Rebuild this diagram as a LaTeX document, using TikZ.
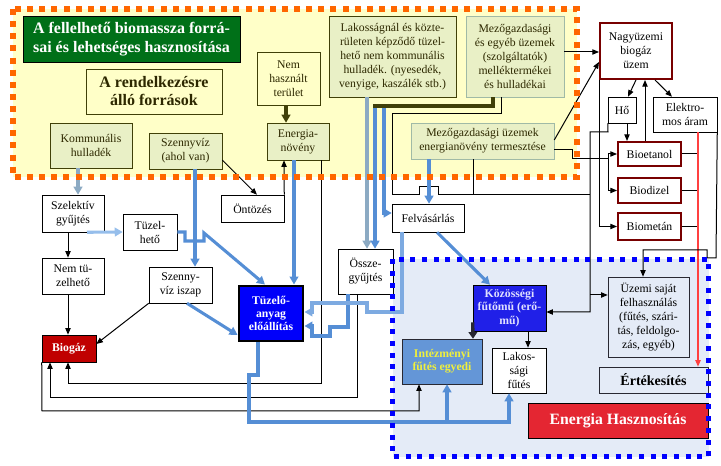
\documentclass[tikz,border=0pt]{standalone}
\usepackage{fontspec}
\setmainfont{Liberation Serif}
\usetikzlibrary{arrows.meta}
\definecolor{regionyellow}{RGB}{255,255,200}
\definecolor{regionblue}{RGB}{228,235,247}
\definecolor{orangeedge}{RGB}{255,102,0}
\definecolor{blueedge}{RGB}{0,0,255}
\definecolor{srcgreen}{RGB}{233,240,198}
\definecolor{olivedark}{RGB}{64,64,8}
\definecolor{inkolive}{RGB}{45,40,0}
\definecolor{lightborder}{RGB}{160,186,166}
\definecolor{titlegreen}{RGB}{0,112,24}
\definecolor{biored}{RGB}{120,0,0}
\definecolor{biogazred}{RGB}{192,0,0}
\definecolor{pureblue}{RGB}{0,0,250}
\definecolor{kozosblue}{RGB}{32,32,232}
\definecolor{kozostext}{RGB}{224,224,255}
\definecolor{intezblue}{RGB}{100,150,215}
\definecolor{inteztext}{RGB}{240,240,60}
\definecolor{energiared}{RGB}{228,38,50}
\definecolor{feedblue}{RGB}{85,142,213}
\definecolor{grayblue}{RGB}{140,170,195}
\definecolor{lightfeed}{RGB}{150,190,235}
\definecolor{palefeed}{RGB}{125,170,225}
\definecolor{redline}{RGB}{255,64,64}
\definecolor{darkarrow}{RGB}{40,40,50}
\tikzset{
    box/.style={draw=black, rectangle, align=center, inner sep=0pt, fill=white, text=black, font=\fontsize{8.8}{10.5}\selectfont},
    srcbox/.style={box, draw=olivedark, fill=srcgreen, text=inkolive},
    biobox/.style={box, draw=biored, line width=1.5pt},
    wh/.style 2 args={minimum width=#1*0.75pt, minimum height=#2*0.75pt},
    link/.style={draw=black, line width=0.75pt},
    linkarr/.style={link, -{Triangle[length=5pt,width=4pt]}},
    feed/.style={draw=feedblue, line width=2.3pt},
    feedarr/.style={feed, -{Triangle[length=6pt,width=6.5pt]}},
    bold/.style={font=\fontsize{8.8}{10}\selectfont\bfseries}
}
\begin{document}
\begin{tikzpicture}[x=0.75pt, y=-0.75pt]
                \useasboundingbox (0,0) rectangle (721,466);
                \fill [regionyellow] (13,9) rectangle (577,177);
                \fill [regionblue] (392.5,259.5) rectangle (708.5,456.5);

                \node [box, fill=titlegreen, text=white, wh={217}{46}, font=\fontsize{12}{14}\selectfont\bfseries] (title) at (131.5,39) {A fellelhető biomassza forrá-\\sai és lehetséges hasznosítása};
                \node [box, fill=regionyellow, draw=olivedark, text=inkolive, wh={136}{45}, font=\fontsize{12}{13.5}\selectfont\bfseries] (avail) at (154,91.5) {A rendelkezésre\\álló források};
                \node [srcbox, wh={82}{45}] (komm) at (91,145.5) {Kommunális\\hulladék};
                \node [srcbox, wh={73}{36}] (szennyviz) at (185.5,151) {Szennyvíz\\(ahol van)};
                \node [srcbox, fill=regionyellow, wh={63}{53}] (nemhasz) at (288.5,78.5) {Nem\\használt\\terület};
                \node [srcbox, wh={62}{37}] (enov) at (298,141.5) {Energia-\\növény};
                \node [srcbox, wh={127}{81}] (lakos) at (392.5,56.5) {Lakosságnál és közte-\\rületen képződő tüzel-\\hető nem kommunális\\hulladék. (nyesedék,\\venyige, kaszálék stb.)};
                \node [srcbox, draw=lightborder, wh={98}{81}] (mezo) at (515,56.5) {Mezőgazdasági\\és egyéb üzemek\\(szolgáltatók)\\melléktermékei\\és hulladékai};
                \node [srcbox, draw=lightborder, wh={143}{36}] (mezoen) at (482.5,141) {Mezőgazdasági üzemek\\energianövény termesztése};

                \node [biobox, wh={72}{56}] (nagy) at (636,51) {Nagyüzemi\\biogáz\\üzem};
                \node [box, wh={28}{26}] (ho) at (622,110) {Hő};
                \node [box, wh={64}{35}] (elektro) at (685,114.5) {Elektro-\\mos áram};
                \node [biobox, wh={63}{24}] (bioet) at (649.5,154) {Bioetanol};
                \node [biobox, wh={63}{25}] (biodiz) at (649.5,190.5) {Biodizel};
                \node [biobox, wh={63}{27}] (biomet) at (649.5,226.5) {Biometán};

                \node [box, wh={62}{37}] (szelekt) at (73,213.5) {Szelektív\\gyűjtés};
                \node [box, wh={54}{36}] (tuzelh) at (150,232) {Tüzel-\\hető};
                \node [box, wh={62}{36}] (nemtuz) at (73,276) {Nem tü-\\zelhető};
                \node [box, wh={63}{36}] (iszap) at (180.5,285) {Szenny-\\víz iszap};
                \node [box, wh={63}{27}] (ontoz) at (252.5,208.5) {Öntözés};
                \node [box, bold, fill=biogazred, text=white, wh={54}{27}] (biogaz) at (69,348.5) {Biogáz};
                \node [box, bold, fill=pureblue, text=white, line width=2.2pt, wh={64}{55}] (tuzanyag) at (271,313.5) {Tüzelő-\\anyag\\előállítás};
                \node [box, wh={55}{45}] (ossze) at (365.5,271.5) {Össze-\\gyűjtés};
                \node [box, wh={72}{28}] (felvas) at (428,218) {Felvásárlás};

                \node [box, bold, fill=kozosblue, text=kozostext, wh={73}{46}] (kozos) at (509.5,308) {Közösségi\\fűtőmű (erő-\\mű)};
                \node [box, bold, fill=intezblue, text=inteztext, draw=darkarrow, wh={80}{45}] (intez) at (442,361.5) {Intézményi\\fűtés egyedi};
                \node [box, wh={54}{45}] (lakosf) at (519,370.5) {Lakos-\\sági\\fűtés};
                \node [box, fill=regionblue, draw=darkarrow, wh={81}{80}] (uzemi) at (648.5,317) {Üzemi saját\\felhasználás\\(fűtés, szári-\\tás, feldolgo-\\zás, egyéb)};
                \node [box, fill=regionblue, draw=darkarrow, wh={109}{26}, font=\fontsize{10.5}{12}\selectfont\bfseries] (ertek) at (653.5,380) {Értékesítés};
                \node [box, fill=energiared, text=white, wh={180}{35}, font=\fontsize{11.8}{13}\selectfont\bfseries] (energia) at (618,420.5) {Energia Hasznosítás};

                \draw [feedarr, draw=grayblue] (komm.south -| 78,0) -- (szelekt.north -| 78,0);
                \draw [feedarr, draw=lightfeed] (szelekt.south -| 87,0) -- (tuzelh.west);
                \draw [linkarr] (szelekt.south -| 68,0) -- (nemtuz.north -| 68,0);
                \draw [linkarr] (nemtuz.south -| 68,0) -- (biogaz.north -| 68,0);
                \draw [linkarr] (iszap.south west) -- (biogaz.east |- 0,344);
                \draw [feedarr] (iszap.south -| 187,0) -- (tuzanyag.west |- 0,335);
                \draw [feedarr] (tuzelh.east) -- (185,232) -- (185,241) -- (204,241) -- (204,233) -- (tuzanyag.north -| 265,0);
                \draw [feedarr] (szennyviz.south -| 195,0) -- (iszap.north -| 195,0);
                \draw [linkarr] (szennyviz.east |- 0,160) -- (ontoz.north -| 257,0);
                \draw [linkarr] (ontoz.north east) -- (enov.south -| 284,0);
                \draw [draw=olivedark, line width=2.5pt, -{Triangle[length=6pt,width=6.5pt]}] (nemhasz.south -| 286,0) -- (enov.north -| 286,0);
                \draw [feedarr] (enov.south -| 294,0) -- (tuzanyag.north -| 294,0);
                \draw [linkarr] (enov.south -| 321,0) -- (321,384) -| (biogaz.south -| 68,0);
                \draw [linkarr] (ossze.south -| 357,0) -- (357,398) -| (biogaz.south -| 50,0);
                \draw [linkarr] (biogaz.south west) -- (42,411) -| (intez.south -| 419,0);
                \draw [feedarr] (tuzanyag.south -| 258,0) -- (258,375) -- (249,375) -- (249,422) -| (lakosf.south -| 509,0);
                \coordinate (split) at (447,422);
                \draw [feedarr] (split) -- (intez.south -| 447,0);
                \draw [feedarr] (ossze.south -| 348,0) -- (348,327) -- (330,327) -- (330,336) -- (312,336) -- (312,326) -- (tuzanyag.east |- 0,326);
                \draw [feedarr, draw=palefeed] (felvas.south -| 402,0) -- (402,312) -- (367,312) -- (367,303) -- (312,303) -- (312,312) -- (tuzanyag.east |- 0,312);

                \draw [feedarr, draw=grayblue] (lakos.south -| 367,0) -- (ossze.north -| 367,0);
                \coordinate (olv) at (375,106);
                \draw [feedarr] (olv) -- (ossze.north -| 375,0);
                \draw [feedarr] (olv -| 384,0) -- (384,213) -- (felvas.west |- 0,213);
                \draw [draw=olivedark, line width=2.5pt] (mezo.south -| 493,0) |- (373,106);
                \draw [link] (mezo.south -| 501,0) |- (392,114) -- (392,195) -- (419,195) -- (419,187) -- (438,187) -- (438,195) -- (590,195);
                \draw [link] (mezoen.south -| 473,0) -- (473,195);
                \draw [feedarr] (mezoen.south -| 429,0) -- (felvas.north -| 429,0);
                \draw [feedarr] (felvas.south -| 437,0) -- (kozos.north -| 490,0);

                \draw [linkarr] (ho.south west) -- (608,132) -- (590,132) -- (590,312) -- (kozos.east |- 0,312);
                \coordinate (heatsplit) at (590,295);
                \draw [linkarr] (heatsplit) -- (uzemi.west |- 0,295);
                \draw [link] (mezoen.east |- 0,150) -- (572,150) |- (608,159);
                \coordinate (biosplit) at (608,159);
                \draw [linkarr] (biosplit) |- (bioet.west);
                \draw [linkarr] (biosplit) |- (biodiz.west);
                \draw [linkarr] (nagy.south west) |- (biomet.west);
                \draw [linkarr] (mezo.east |- 0,52) -- (nagy.west |- 0,52);
                \draw [linkarr] (mezoen.east |- 0,140) -- (nagy.west |- 0,62);
                \draw [linkarr] (nagy.south -| 636,0) -- (ho.north -| 628,0);
                \draw [linkarr] (nagy.south -| 655,0) -- (elektro.north -| 672,0);
                \draw [linkarr] (bioet.north -| 645,0) -- (nagy.south -| 645,0);
                \draw [linkarr] (ho.south -| 627,0) -- (bioet.north -| 627,0);
                \draw [link] (bioet.east) -- (bioet.east -| 698,0);
                \draw [link] (biodiz.east) -- (biodiz.east -| 698,0);
                \draw [link] (biomet.east) -- (biomet.east -| 698,0);
                \draw [linkarr, draw=redline, line width=1pt] (elektro.south -| 698,0) -- (ertek.north -| 698,0);
                \draw [linkarr] (elektro.south east) -- (716,258) -- (707,258) -- (707,250) -- (643,250) -- (uzemi.north -| 643,0);
                \draw [draw=darkarrow, line width=2.5pt, -{Triangle[length=5pt,width=6.5pt]}] ([yshift=6.75pt]kozos.south west) -- (intez.north -| 473,0);
                \draw [linkarr] (kozos.south -| 528,0) -- (lakosf.north -| 528,0);

                \draw [draw=orangeedge, line width=4.5pt, dash pattern=on 4.5pt off 4.6pt] (13,9) rectangle (577,177);
                \draw [draw=blueedge, line width=3.75pt, dash pattern=on 3.75pt off 5pt] (392.5,259.5) rectangle (708.5,456.5);
            \end{tikzpicture}
\end{document}
